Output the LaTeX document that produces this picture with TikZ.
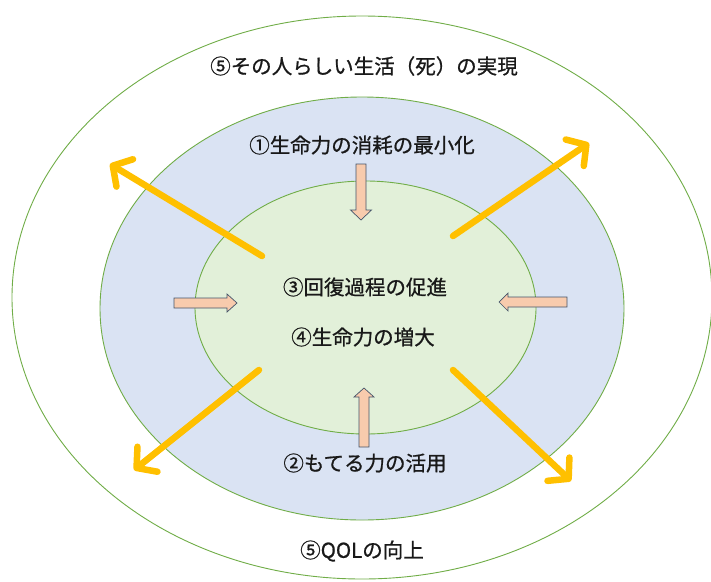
\documentclass[tikz,border=0pt]{standalone}
\usepackage{fontspec}
\newfontfamily\jp{Noto Sans CJK JP}[FakeBold=0.8]
\usetikzlibrary{arrows.meta}
\definecolor{ringgreen}{HTML}{70AD47}
\definecolor{midblue}{HTML}{DAE3F3}
\definecolor{innergreen}{HTML}{E2F0D9}
\definecolor{gold}{HTML}{FFC000}
\definecolor{salmon}{HTML}{F8CBAD}
\definecolor{navy}{HTML}{44546A}
\tikzset{
  ring/.style={draw=ringgreen, line width=0.9pt},
  lbl/.style={font=\jp\fontsize{20.5}{24}\selectfont, inner sep=0pt, text=black!90},
  outarrow/.style={draw=gold, line width=6.5pt, line cap=round, line join=round,
    -{Straight Barb[length=14pt, width=32pt, line cap=round, line join=round]}},
  blockarrow/.style={fill=salmon, draw=navy, line width=0.7pt, line join=miter}
}
\begin{document}
\begin{tikzpicture}[x=1pt, y=-1pt]
\useasboundingbox (0,0) rectangle (711,581);
% ellipses
\draw[ring, fill=white] (362,297.5) ellipse [x radius=350, y radius=281.5];
\draw[ring, fill=midblue] (362,308.5) ellipse [x radius=262, y radius=211.5];
\draw[ring, fill=innergreen] (365.5,307.5) ellipse [x radius=170.5, y radius=126.5];
% labels
\node[lbl] (t5a) at (364,66) {⑤その人らしい生活（死）の実現};
\node[lbl] (t1) at (362,145) {①生命力の消耗の最小化};
\node[lbl] (t3) at (365,287) {③回復過程の促進};
\node[lbl] (t4) at (363,337) {④生命力の増大};
\node[lbl] (t2) at (365,463) {②もてる力の活用};
\node[lbl] (t5b) at (362,551) {⑤QOLの向上};
% orange arrows
\coordinate (ulS) at (262,256);
\coordinate (ulE) at (110,164);
\coordinate (urS) at (453,236);
\coordinate (urE) at (589,143);
\coordinate (llS) at (259,370);
\coordinate (llE) at (134,470);
\coordinate (lrS) at (453,370);
\coordinate (lrE) at (571,481);
\draw[outarrow] (ulS) -- (ulE);
\draw[outarrow] (urS) -- (urE);
\draw[outarrow] (llS) -- (llE);
\draw[outarrow] (lrS) -- (lrE);
% block arrows
% top (down)
\draw[blockarrow] (356,164) -- (366,164) -- (366,210) -- (371.5,210) -- (361,220) -- (350.5,210) -- (356,210) -- cycle;
% bottom (up)
\draw[blockarrow] (359,447) -- (369,447) -- (369,397) -- (374,397) -- (364,388) -- (354,397) -- (359,397) -- cycle;
% left (right-pointing)
\draw[blockarrow] (174,298) -- (227,298) -- (227,294) -- (237,303) -- (227,312) -- (227,308) -- (174,308) -- cycle;
% right (left-pointing)
\draw[blockarrow] (567,297) -- (508,297) -- (508,293) -- (499,302) -- (508,311) -- (508,307) -- (567,307) -- cycle;
\end{tikzpicture}
\end{document}
